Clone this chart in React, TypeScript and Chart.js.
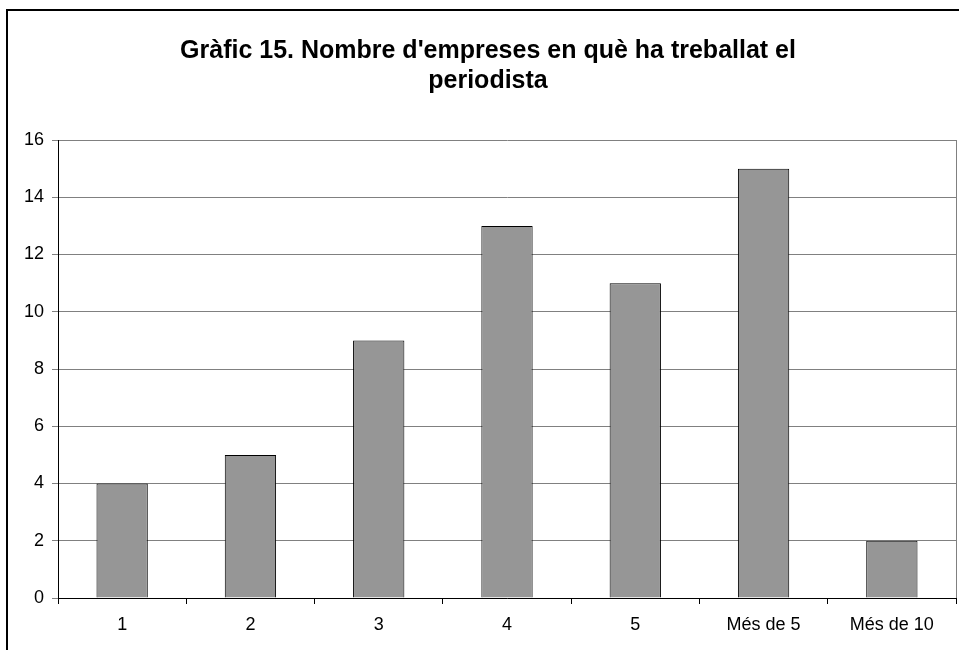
import React, { useEffect, useRef } from "react";
import { Chart, registerables } from "chart.js";

Chart.register(...registerables);

const categories = ["1", "2", "3", "4", "5", "Més de 5", "Més de 10"];
const values = [4, 5, 9, 13, 11, 15, 2];
const titleLines = ["Gràfic 15. Nombre d'empreses en què ha treballat el", "periodista"];
const yMax = 16;
const yStep = 2;

const FONT = "'Liberation Sans', Arial, sans-serif";

const framePlugin = {
  id: "frame",
  beforeDraw(chart: any) {
    const ctx = chart.ctx;
    ctx.save();
    ctx.fillStyle = "#ffffff";
    ctx.fillRect(0, 0, chart.width, chart.height);
    ctx.strokeStyle = "#000000";
    ctx.lineWidth = 2;
    ctx.strokeRect(7, 10, chart.width + 20, chart.height + 20);
    ctx.fillStyle = "#000000";
    ctx.font = `bold 25px ${FONT}`;
    ctx.textAlign = "center";
    ctx.textBaseline = "alphabetic";
    titleLines.forEach((t, i) => ctx.fillText(t, 488, 58 + i * 30));
    ctx.restore();
  },
  afterDatasetsDraw(chart: any) {
    const { ctx, chartArea } = chart;
    ctx.save();
    ctx.strokeStyle = "#808080";
    ctx.lineWidth = 1;
    ctx.beginPath();
    ctx.moveTo(chartArea.right + 0.5, chartArea.top);
    ctx.lineTo(chartArea.right + 0.5, chartArea.bottom);
    ctx.stroke();
    ctx.restore();
  },
};

export default function App() {
  const ref = useRef<HTMLCanvasElement>(null);
  useEffect(() => {
    if (!ref.current) return;
    const chart = new Chart(ref.current, {
      type: "bar",
      data: {
        labels: categories,
        datasets: [
          {
            data: values,
            backgroundColor: "#969696",
            borderColor: "#000000",
            borderWidth: 1,
            barPercentage: 0.4,
            categoryPercentage: 1,
          },
        ],
      },
      options: {
        responsive: false,
        animation: false,
        layout: { padding: { top: 140, right: 3, left: 0, bottom: 0 } },
        plugins: { legend: { display: false }, title: { display: false }, tooltip: { enabled: false } },
        scales: {
          x: {
            afterFit: (s: any) => {
              s.height = 52;
            },
            grid: { drawOnChartArea: false, drawTicks: true, tickLength: 6, color: "#000000", offset: true },
            border: { color: "#000000", width: 1 },
            ticks: { color: "#000000", font: { family: FONT, size: 18 }, padding: 10, maxRotation: 0 },
          },
          y: {
            min: 0,
            max: yMax,
            afterFit: (s: any) => {
              s.width = 58;
            },
            grid: { color: "#808080", tickLength: 6, lineWidth: 1 },
            border: { color: "#000000", width: 1 },
            ticks: { stepSize: yStep, color: "#000000", font: { family: FONT, size: 18 }, padding: 8 },
          },
        },
      },
      plugins: [framePlugin],
    });
    return () => chart.destroy();
  }, []);
  return (
    <div style={{ position: "absolute", left: 0, top: 0 }}>
      <canvas ref={ref} width={959} height={650} style={{ display: "block" }} />
    </div>
  );
}
